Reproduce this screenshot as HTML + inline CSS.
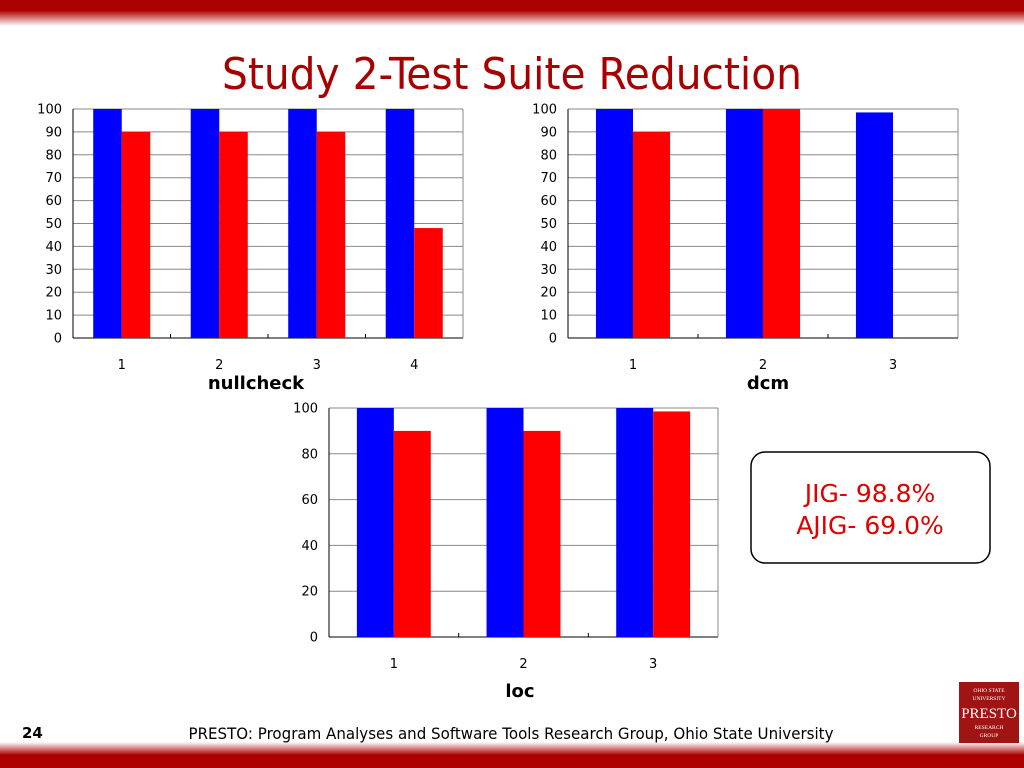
<!DOCTYPE html>
<html><head><meta charset="utf-8"><style>
html,body{margin:0;padding:0;background:#fff;width:1024px;height:768px;overflow:hidden}
svg{display:block}
text{font-family:"DejaVu Sans","Liberation Sans",sans-serif}
</style></head><body>
<svg id="s" width="1024" height="768" viewBox="0 0 1024 768">
<defs>
<linearGradient id="gt" x1="0" y1="0" x2="0" y2="1"><stop offset="0" stop-color="#ad0000"/><stop offset="0.4" stop-color="#ad0000"/><stop offset="1" stop-color="#ffffff"/></linearGradient>
<linearGradient id="gb" x1="0" y1="1" x2="0" y2="0"><stop offset="0" stop-color="#ad0000"/><stop offset="0.5" stop-color="#ad0000"/><stop offset="1" stop-color="#ffffff"/></linearGradient>
</defs>
<rect x="0" y="0" width="1024" height="26" fill="url(#gt)"/>
<rect x="0" y="742" width="1024" height="26" fill="url(#gb)"/>
<text x="512" y="89" text-anchor="middle" font-size="44" fill="#a80000" style="font-family:'DejaVu Sans Condensed','Liberation Sans',sans-serif" textLength="580" lengthAdjust="spacingAndGlyphs">Study 2-Test Suite Reduction</text>
<g id="c1"></g>
<g id="c2"></g>
<g id="c3"></g>
<rect x="751" y="452" width="239" height="111" rx="14" fill="#fff" stroke="#000" stroke-width="1.5"/>
<text x="870" y="502" text-anchor="middle" font-size="25" fill="#e00000">JIG- 98.8%</text>
<text x="870" y="534" text-anchor="middle" font-size="25" fill="#e00000">AJIG- 69.0%</text>
<text x="22" y="738" font-size="15" font-weight="bold" fill="#000">24</text>
<text x="511" y="739" text-anchor="middle" font-size="16" fill="#000" textLength="645" lengthAdjust="spacingAndGlyphs">PRESTO: Program Analyses and Software Tools Research Group, Ohio State University</text>
<g>
<rect x="959" y="682" width="60" height="61" fill="#a01414"/>
<text x="989" y="692" text-anchor="middle" font-size="5.5" fill="#fff" style="font-family:'Liberation Serif',serif">OHIO STATE</text>
<text x="989" y="700" text-anchor="middle" font-size="5.5" fill="#fff" style="font-family:'Liberation Serif',serif">UNIVERSITY</text>
<text x="989" y="718" text-anchor="middle" font-size="15" fill="#fff" style="font-family:'Liberation Serif',serif">PRESTO</text>
<text x="989" y="729" text-anchor="middle" font-size="5.5" fill="#fff" style="font-family:'Liberation Serif',serif">RESEARCH</text>
<text x="989" y="737" text-anchor="middle" font-size="5.5" fill="#fff" style="font-family:'Liberation Serif',serif">GROUP</text>
</g>
</svg>
<script>
const nullCats=["1","2","3","4"];
const nullJig=[100,100,100,100];
const nullAjig=[90,90,90,48];
const dcmCats=["1","2","3"];
const dcmJig=[100,100,98.5];
const dcmAjig=[90,100,0];
const locCats=["1","2","3"];
const locJig=[100,100,100];
const locAjig=[90,90,98.5];
const ticks10=[0,10,20,30,40,50,60,70,80,90,100];
const ticks20=[0,20,40,60,80,100];
const NS="http://www.w3.org/2000/svg";
function mk(p,t,a){const e=document.createElementNS(NS,t);for(const k in a)e.setAttribute(k,a[k]);p.appendChild(e);return e;}
function chart(id,L,R,T,B,cats,s1,s2,ticks,title,titleX,titleY,frac){
 const g=document.getElementById(id);
 const y=v=>B-(v/100)*(B-T);
 const cw=(R-L)/cats.length;
 ticks.forEach(t=>{
  const ln=mk(g,'line',{x1:L,x2:R,y1:y(t),y2:y(t),stroke:t===0?'#000':'#888','stroke-width':1});
  
  
  const tx=mk(g,'text',{x:L-11,y:y(t)+4.5,'text-anchor':'end','font-size':13,fill:'#000'});
  tx.textContent=t;
  
  
 });
 mk(g,'line',{x1:L,x2:L,y1:T,y2:B,stroke:'#000'});
 mk(g,'line',{x1:R,x2:R,y1:T,y2:B,stroke:'#888'});
 const bw=cw*frac/2;
 cats.forEach((c,i)=>{
  const cx=L+cw*(i+0.5);
  [[s1[i],'#0000ff',cx-bw,'jig-bar'],[s2[i],'#ff0000',cx,'ajig-bar']].forEach(([v,col,x,nm])=>{
   if(v<=0)return;
   const r=mk(g,'rect',{x:x,y:y(v),width:bw,height:B-y(v),fill:col});
   
   
  });
  if(i>0)mk(g,'line',{x1:L+cw*i,x2:L+cw*i,y1:B-4,y2:B,stroke:'#000'});
  const t=mk(g,'text',{x:cx,y:B+31,'text-anchor':'middle','font-size':13,fill:'#000'});
  t.textContent=c;
  
  
 });
 const tt=mk(g,'text',{x:titleX,y:titleY,'text-anchor':'middle','font-size':18,'font-weight':'bold',fill:'#000'});
 tt.textContent=title;
 
 
}
chart('c1',73,463,109,338,nullCats,nullJig,nullAjig,ticks10,'nullcheck',256,389,0.585);
chart('c2',568,958,109,338,dcmCats,dcmJig,dcmAjig,ticks10,'dcm',768,389,0.57);
chart('c3',329,718,408,637,locCats,locJig,locAjig,ticks20,'loc',520,697,0.57);
</script>
</body></html>
